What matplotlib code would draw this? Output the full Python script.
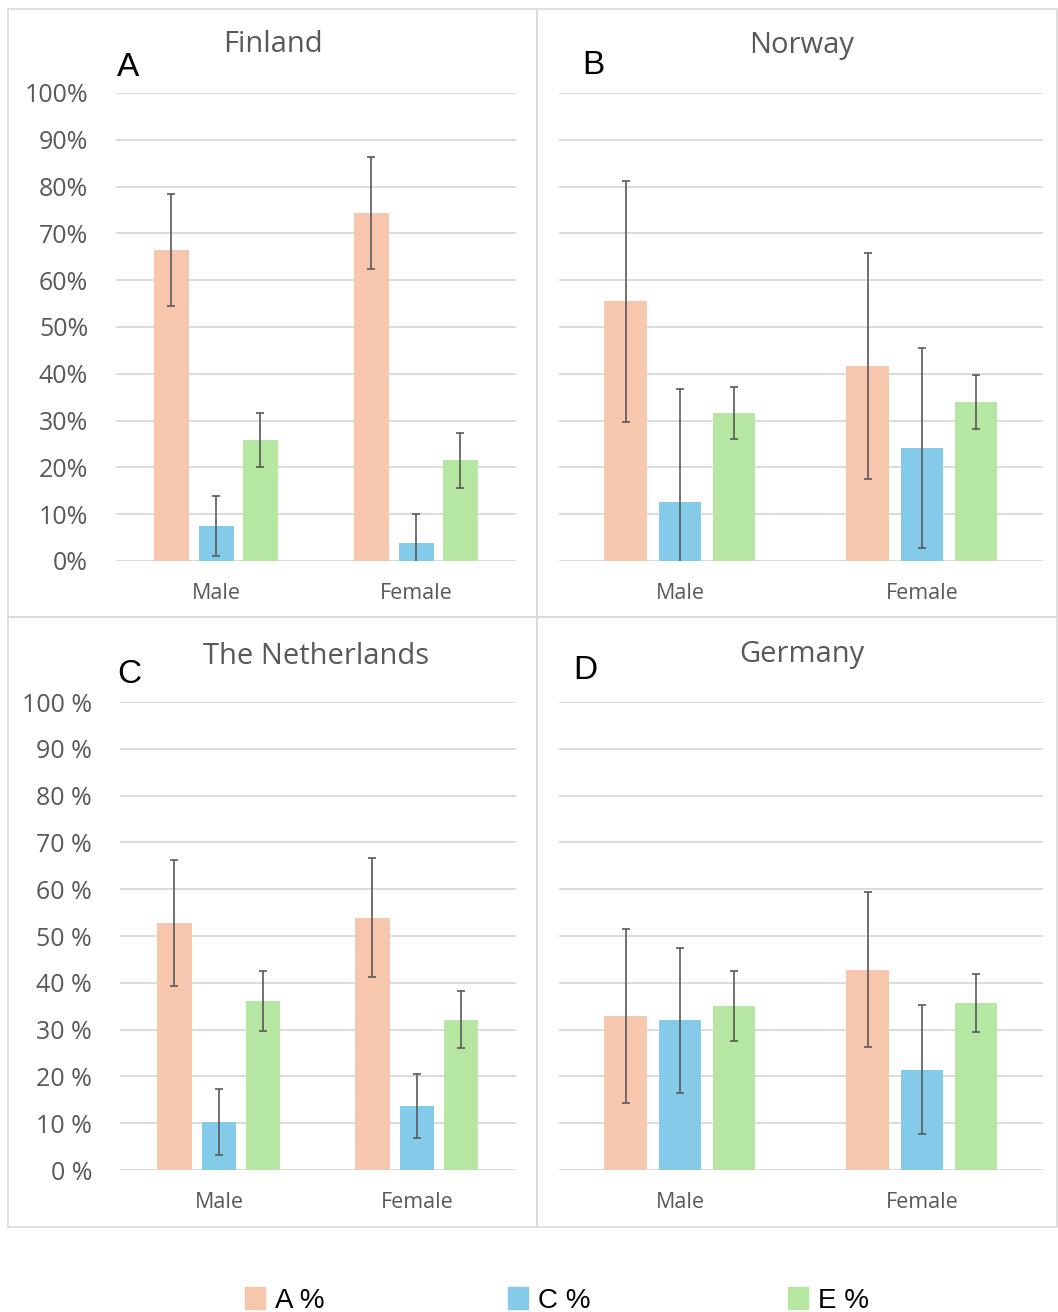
import matplotlib.pyplot as plt
import numpy as np
from matplotlib.patches import Rectangle

W, H = 1058, 1312

groups = ['Male', 'Female']
series = ['A %', 'C %', 'E %']
colors = ['#F6C7AD', '#84CBEA', '#B5E6A2']

# values in percent, [Male, Female]
finland = {'A %': [66.5, 74.4], 'C %': [7.4, 3.8], 'E %': [25.8, 21.5]}
finland_err = {'A %': [12.0, 11.9], 'C %': [6.4, 6.3], 'E %': [5.8, 5.8]}
norway = {'A %': [55.5, 41.7], 'C %': [12.7, 24.1], 'E %': [31.6, 34.0]}
norway_err = {'A %': [25.8, 24.1], 'C %': [24.0, 21.4], 'E %': [5.5, 5.8]}
netherlands = {'A %': [52.8, 53.9], 'C %': [10.3, 13.7], 'E %': [36.2, 32.1]}
netherlands_err = {'A %': [13.4, 12.7], 'C %': [7.0, 6.8], 'E %': [6.4, 6.1]}
germany = {'A %': [32.9, 42.8], 'C %': [32.0, 21.4], 'E %': [35.0, 35.6]}
germany_err = {'A %': [18.5, 16.5], 'C %': [15.5, 13.8], 'E %': [7.5, 6.2]}

yticks = np.arange(0, 101, 10)

plt.rcParams['font.family'] = ['Open Sans', 'DejaVu Sans']

fig = plt.figure(figsize=(W / 100, H / 100), dpi=100)


def px_axes(x0, y0, x1, y1):
    return fig.add_axes([x0 / W, 1 - y1 / H, (x1 - x0) / W, (y1 - y0) / H])


def box(x0, y0, x1, y1):
    fig.add_artist(Rectangle((x0 / W, 1 - y1 / H), (x1 - x0) / W, (y1 - y0) / H,
                             transform=fig.transFigure, fill=False,
                             edgecolor='#D9D9D9', linewidth=1.2))


def panel(ax, data, err, fmt):
    x = np.arange(len(groups))
    offs = [-0.225, 0.0, 0.222]
    for i, s in enumerate(series):
        ax.bar(x + offs[i], data[s], width=0.175, color=colors[i], zorder=2)
        ax.errorbar(x + offs[i], data[s], yerr=err[s], fmt='none',
                    ecolor='#595959', elinewidth=1.2, capsize=3, capthick=1.2,
                    zorder=3)
    ax.set_xlim(-0.5, 1.5)
    ax.set_ylim(0, 100)
    ax.set_yticks(yticks)
    ax.grid(axis='y', color='#D9D9D9', linewidth=1.3, zorder=0)
    ax.set_axisbelow(True)
    for sp in ax.spines.values():
        sp.set_visible(False)
    ax.set_xticks(x)
    ax.set_xticklabels(groups, fontsize=15.5, color='#595959')
    ax.tick_params(axis='x', length=0, pad=16)
    if fmt is None:
        ax.set_yticklabels([])
        ax.tick_params(axis='y', length=0)
    else:
        ax.set_yticklabels([fmt.format(v) for v in yticks], fontsize=18, color='#595959')
        ax.tick_params(axis='y', length=0, pad=20)


box(8, 9, 537, 617)
box(537, 9, 1057, 617)
box(8, 617, 537, 1227)
box(537, 617, 1057, 1227)

axA = px_axes(116, 93, 516, 561)
panel(axA, finland, finland_err, '{}%')
axB = px_axes(559, 93, 1043, 561)
panel(axB, norway, norway_err, None)
axC = px_axes(120, 702, 516, 1170)
panel(axC, netherlands, netherlands_err, '{} %')
axD = px_axes(559, 702, 1043, 1170)
panel(axD, germany, germany_err, None)

titles = [('Finland', 273, 45), ('Norway', 802, 45),
          ('The Netherlands', 316, 656), ('Germany', 802, 654)]
for t, x, y in titles:
    fig.text(x / W, 1 - y / H, t, ha='center', va='center', fontsize=21, color='#595959')

letters = [('A', 117, 76), ('B', 582, 74), ('C', 117, 683), ('D', 573, 679)]
for t, x, y in letters:
    fig.text(x / W, 1 - y / H, t, ha='left', va='baseline', fontsize=24,
             color='black', family=['Liberation Sans', 'DejaVu Sans'])

# legend along the bottom edge
leg_x = [245, 508, 788]
for i, s in enumerate(series):
    fig.add_artist(Rectangle((leg_x[i] / W, 1 - 1309 / H), 20 / W, 22 / H,
                             transform=fig.transFigure, color=colors[i]))
    fig.text((leg_x[i] + 30) / W, 1 - 1308 / H, s, ha='left', va='baseline', fontsize=20,
             color='black', family=['Liberation Sans Narrow', 'Liberation Sans', 'DejaVu Sans'])

fig.savefig('out.png', dpi=100)
